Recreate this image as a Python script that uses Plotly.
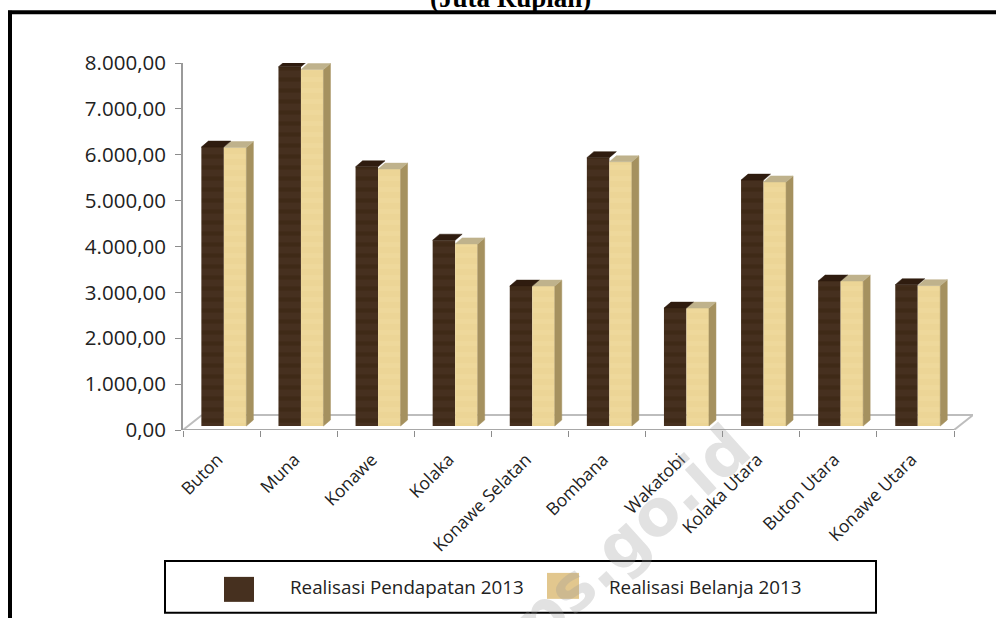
import plotly.graph_objects as go

categories = ["Buton", "Muna", "Konawe", "Kolaka", "Konawe Selatan", "Bombana",
              "Wakatobi", "Kolaka Utara", "Buton Utara", "Konawe Utara"]
pendapatan = [6080, 7830, 5650, 4050, 3050, 5850, 2570, 5360, 3160, 3080]
belanja = [6070, 7770, 5600, 3970, 3050, 5760, 2570, 5320, 3160, 3060]
series_names = ["Realisasi Pendapatan 2013", "Realisasi Belanja 2013"]
y_ticks = [0, 1000, 2000, 3000, 4000, 5000, 6000, 7000, 8000]
y_labels = ["0,00", "1.000,00", "2.000,00", "3.000,00", "4.000,00",
            "5.000,00", "6.000,00", "7.000,00", "8.000,00"]

L, R, T, B = 183.0, 973.0, 62.7, 430.0
W, H = 996, 618
PX_X = 77.1
PX_Y = (B - T) / 8000.0
xrange_max = (R - L) / PX_X
dx = 7 / PX_X
dy = 6 / PX_Y
base = 4 / PX_Y
bw = 22.5 / PX_X
centers = [i + 0.53 for i in range(len(categories))]
DARK, DARK2, LIGHT, LIGHT2 = "#46301f", "#38230f", "#ecd596", "#f0dba0"


def px(x):
    return (x - L) / (R - L)


def py(y):
    return (B - y) / (B - T)


def faces(xs, vals, kind):
    ox, oy = [], []
    for x, v in zip(xs, vals):
        left, right = x, x + bw
        top = v + base
        if kind == "side":
            poly = [(right, base), (right + dx, base + dy), (right + dx, top + dy), (right, top)]
        else:
            poly = [(left, top), (left + dx, top + dy), (right + dx, top + dy), (right, top)]
        for a, b in poly + [poly[0]]:
            ox.append(a)
            oy.append(b)
        ox.append(None)
        oy.append(None)
    return ox, oy


def face_trace(xs, vals, kind, color):
    ox, oy = faces(xs, vals, kind)
    return go.Scatter(x=ox, y=oy, mode="lines", fill="toself", fillcolor=color,
                      line=dict(color=color, width=0.5), hoverinfo="skip", showlegend=False)


x_dark = [c - bw for c in centers]
x_light = list(centers)

fig = go.Figure()
for xs, vals, name, col, band in [(x_dark, pendapatan, series_names[0], DARK, DARK2),
                                  (x_light, belanja, series_names[1], LIGHT, LIGHT2)]:
    fig.add_trace(go.Bar(
        x=[a + bw / 2 for a in xs], y=vals, base=base, width=bw, name=name,
        marker=dict(color=col, line=dict(width=0),
                    pattern=dict(shape="-", fgcolor=band, bgcolor=col, size=11, solidity=0.4)),
        showlegend=False))
fig.add_trace(face_trace(x_light, belanja, "side", "#a5915f"))
fig.add_trace(face_trace(x_light, belanja, "top", "#bfb28c"))
fig.add_trace(face_trace(x_dark, pendapatan, "top", "#2f1c0f"))

shapes = []
fl_back = 15 / PX_Y
fl_dx = (R - 954) / PX_X
n = len(categories)
for x0, y0, x1, y1 in [(0, 0, fl_dx, fl_back), (fl_dx, fl_back, n + fl_dx, fl_back),
                       (n, 0, n + fl_dx, fl_back)]:
    shapes.append(dict(type="line", xref="x", yref="y", x0=x0, y0=y0, x1=x1, y1=y1,
                       layer="below", line=dict(color="#bdbdbd", width=2)))
# page frame
shapes.append(dict(type="line", xref="paper", yref="paper", x0=px(10), x1=px(10), y0=py(10.5), y1=py(620),
                   line=dict(color="#000", width=4)))
shapes.append(dict(type="line", xref="paper", yref="paper", x0=px(8), x1=px(998), y0=py(12), y1=py(12),
                   line=dict(color="#000", width=4)))
# legend box and swatches
shapes.append(dict(type="rect", xref="paper", yref="paper", x0=px(165), x1=px(876), y0=py(561), y1=py(613),
                   line=dict(color="#000", width=2)))
shapes.append(dict(type="rect", xref="paper", yref="paper", x0=px(224), x1=px(254), y0=py(577), y1=py(602),
                   fillcolor=DARK, line=dict(width=0)))
shapes.append(dict(type="rect", xref="paper", yref="paper", x0=px(547), x1=px(579), y0=py(573), y1=py(599),
                   fillcolor="#e2c78e", line=dict(width=0)))

annotations = [
    dict(text="<b>bps.go.id</b>", xref="paper", yref="paper", x=px(615), y=py(550), showarrow=False, textangle=-42,
         font=dict(family="DejaVu Sans", size=64, color="rgba(150,150,150,0.28)"), xanchor="center", yanchor="middle"),
    dict(text="<b>(Juta Rupiah)</b>", xref="paper", yref="paper", x=px(510), y=py(-2), showarrow=False,
         font=dict(family="Liberation Serif", size=27, color="#000"), xanchor="center", yanchor="middle"),
    dict(text=series_names[0], xref="paper", yref="paper", x=px(288), y=py(587), showarrow=False,
         font=dict(family="Open Sans", size=18.8, color="#222"), xanchor="left", yanchor="middle"),
    dict(text=series_names[1], xref="paper", yref="paper", x=px(607), y=py(587), showarrow=False,
         font=dict(family="Open Sans", size=18.8, color="#222"), xanchor="left", yanchor="middle"),
]

fig.update_layout(
    width=W, height=H, autosize=False, margin=dict(l=L, r=W - R, t=T, b=H - B),
    paper_bgcolor="#fff", plot_bgcolor="rgba(0,0,0,0)", barmode="overlay", showlegend=False,
    shapes=shapes, annotations=annotations,
    font=dict(family="Open Sans", color="#222"),
    xaxis=dict(range=[0, xrange_max], tickmode="array", tickvals=[i + 0.45 for i in range(n)],
               ticktext=categories, tickangle=-45, ticklen=0, showgrid=False, zeroline=False,
               showline=False, ticklabelstandoff=15, tickfont=dict(size=17.5, family="Open Sans", color="#222"),
               minor=dict(tickmode="array", tickvals=list(range(n + 1)), ticks="outside", ticklen=6,
                          tickcolor="#8c8c8c", tickwidth=1, showgrid=False)),
    yaxis=dict(range=[0, 8000], tickmode="array", tickvals=y_ticks, ticktext=y_labels,
               ticks="outside", ticklen=6, tickcolor="#8c8c8c", showgrid=False, zeroline=False,
               showline=True, linecolor="#9a9a9a", linewidth=2, ticklabelstandoff=5,
               tickfont=dict(size=20.5, family="Open Sans", color="#222")),
)
fig.add_shape(type="line", xref="x", yref="y", x0=0, y0=0, x1=n, y1=0, line=dict(color="#a8a8a8", width=2))
fig.write_html("out.html", config={"displayModeBar": False},
               post_script="document.body.style.margin='0';")
